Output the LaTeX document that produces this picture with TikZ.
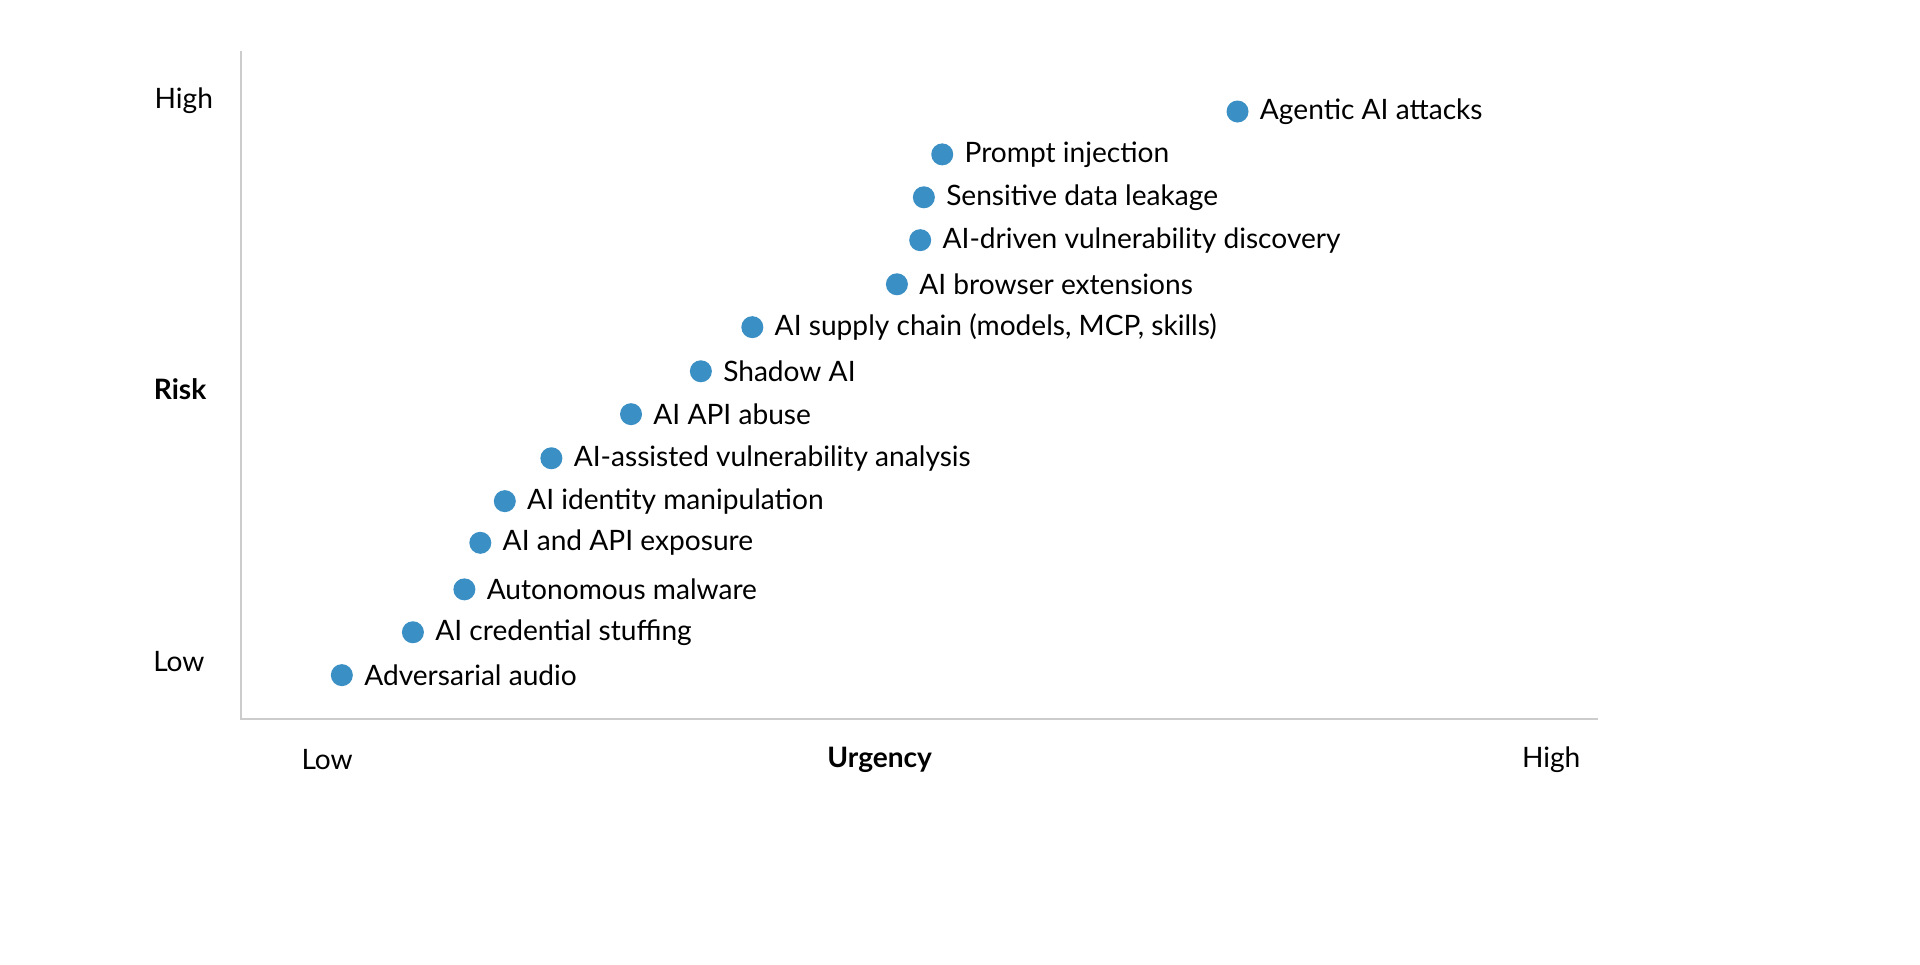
\documentclass[tikz,border=0pt]{standalone}
\usepackage{fontspec}
\setmainfont{Lato}
\usetikzlibrary{backgrounds}
\definecolor{dotblue}{HTML}{3A8FC4}

\begin{document}
\begin{tikzpicture}[x=0.01225cm,y=-0.01225cm,font=\fontsize{8}{10}\selectfont,
    background rectangle/.style={fill=white},show background rectangle,
    risk/.style={circle,fill=dotblue,inner sep=0pt,minimum size=0.22cm},
    risklabel/.style={right,inner sep=0pt,xshift=0.1cm}]
        \useasboundingbox (0,0) rectangle (1567,787);
        \coordinate (o) at (197,587);
        \coordinate (ytop) at (197,42);
        \coordinate (xend) at (1304,587);
        \draw[line width=0.2mm,gray!40] (ytop) -- (o) -- (xend);

        \node (yhigh) at (150,82) {High};
        \node[font=\fontsize{8}{10}\selectfont\bfseries] (ylabel) at (147,318) {Risk};
        \node (ylow) at (146,540) {Low};
        \node (xlow) at (267,620) {Low};
        \node[font=\fontsize{8}{10}\selectfont\bfseries] (xlabel) at (718,620) {Urgency};
        \node (xhigh) at (1266,620) {High};

        \foreach \x/\y/\t [count=\i] in {1010/91/Agentic AI attacks,
            769/126/Prompt injection,
            754/161/Sensitive data leakage,
            751/196/AI-driven vulnerability discovery,
            732/232/AI browser extensions,
            614/267/{AI supply chain (models, MCP, skills)},
            572/303/Shadow AI,
            515/338/AI API abuse,
            450/374/AI-assisted vulnerability analysis,
            412/409/AI identity manipulation,
            392/443/AI and API exposure,
            379/481/Autonomous malware,
            337/516/AI credential stuffing,
            279/551/Adversarial audio/visual}
        \node[risk] (dot\i) at (\x,\y) {} node[risklabel] at (dot\i.east) {\t};

    \end{tikzpicture}
\end{document}
